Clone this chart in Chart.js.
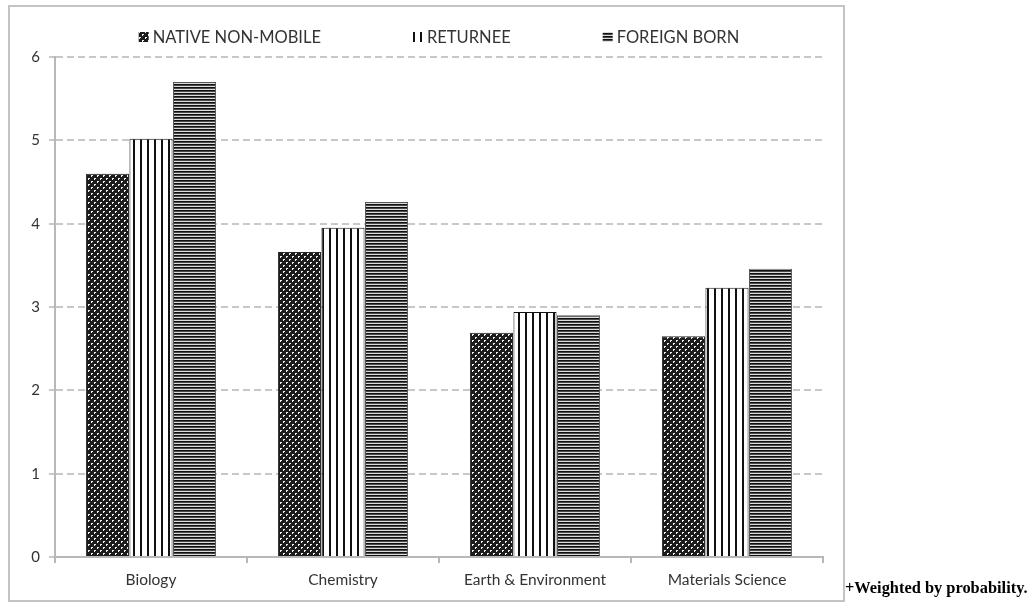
<!DOCTYPE html>
<html>
<head>
<meta charset="utf-8">
<script src="https://cdn.jsdelivr.net/npm/chart.js@4/dist/chart.umd.min.js"></script>
<style>
  html, body { margin: 0; padding: 0; background: #fff; }
  #wrap { position: relative; width: 1029px; height: 602px; }
  #frame { position: absolute; left: 8px; top: 5px; width: 833px; height: 593px; border: 2px solid #c4c4c4; pointer-events: none; }
  #note { position: absolute; left: 845px; top: 578px; font: bold 16.4px "Liberation Serif", serif; color: #000; white-space: nowrap; }
</style>
</head>
<body>
<div id="wrap">
  <canvas id="chart" width="1029" height="602"></canvas>
  <div id="frame"></div>
  <div id="note">+Weighted by probability.</div>
</div>
<script>
// Dati del grafico
const categories = ['Biology', 'Chemistry', 'Earth & Environment', 'Materials Science'];
const seriesNames = ['NATIVE NON-MOBILE', 'RETURNEE', 'FOREIGN BORN'];
const nativeValues = [4.6, 3.66, 2.69, 2.65];
const returneeValues = [5.02, 3.95, 2.94, 3.23];
const foreignValues = [5.7, 4.26, 2.9, 3.46];
const yTicks = [0, 1, 2, 3, 4, 5, 6];

const FONT = 'Lato, "Open Sans", sans-serif';

// Riempimenti a motivo per le barre
function makePattern(w, h, draw) {
    const c = document.createElement('canvas');
    c.width = w;
    c.height = h;
    const g = c.getContext('2d');
    draw(g);
    return c;
}

const ctx = document.getElementById('chart').getContext('2d');

const nativeTile = makePattern(6, 6, g => {
    g.fillStyle = '#1c1c1c';
    g.fillRect(0, 0, 6, 6);
    g.fillStyle = '#f0f0f0';
    // piccoli rombi chiari sfalsati
    g.fillRect(1, 1, 2, 1);
    g.fillRect(1, 2, 1, 1);
    g.fillRect(4, 4, 2, 1);
    g.fillRect(4, 5, 1, 1);
});
const returneeTile = makePattern(7, 1, g => {
    g.fillStyle = '#ffffff';
    g.fillRect(0, 0, 7, 1);
    g.fillStyle = '#111111';
    g.fillRect(0, 0, 2, 1);
});
const foreignTile = makePattern(1, 3, g => {
    g.fillStyle = '#111111';
    g.fillRect(0, 0, 1, 1);
    g.fillStyle = '#4a4a4a';
    g.fillRect(0, 1, 1, 1);
    g.fillStyle = '#dcdcdc';
    g.fillRect(0, 2, 1, 1);
});

const fills = [
    ctx.createPattern(nativeTile, 'repeat'),
    ctx.createPattern(returneeTile, 'repeat'),
    ctx.createPattern(foreignTile, 'repeat')
];

// Legenda disegnata a mano sopra l'area del grafico
const topLegend = {
    id: 'topLegend',
    afterDraw(chart) {
        const c = chart.ctx;
        const area = chart.chartArea;
        const y = 37;
        const box = 10;
        const gap = 92;
        c.save();
        c.font = '16.5px ' + FONT;
        c.textBaseline = 'middle';
        const widths = chart.data.datasets.map(ds => box + 4 + c.measureText(ds.label).width);
        const total = widths.reduce((s, w) => s + w, 0) + gap * (widths.length - 1);
        let x = (area.left + area.right) / 2 - total / 2;
        chart.data.datasets.forEach((ds, i) => {
            c.fillStyle = ds.backgroundColor;
            c.fillRect(x, y - box / 2, box, box);
            c.fillStyle = '#333333';
            c.fillText(ds.label, x + box + 4, y + 1);
            x += widths[i] + gap;
        });
        c.restore();
    }
};

new Chart(ctx, {
    type: 'bar',
    data: {
        labels: categories,
        datasets: [
            { label: seriesNames[0], data: nativeValues, backgroundColor: fills[0], borderColor: '#2a2a2a', borderWidth: 1 },
            { label: seriesNames[1], data: returneeValues, backgroundColor: fills[1], borderColor: '#111111', borderWidth: 1 },
            { label: seriesNames[2], data: foreignValues, backgroundColor: fills[2], borderColor: '#555555', borderWidth: 1 }
        ]
    },
    options: {
        responsive: false,
        animation: false,
        layout: { padding: { left: 8, right: 206, top: 57, bottom: 0 } },
        datasets: {
            bar: { categoryPercentage: 0.68, barPercentage: 0.99 }
        },
        plugins: {
            legend: { display: false },
            tooltip: { enabled: false }
        },
        scales: {
            x: {
                afterFit(scale) { scale.height = 45; },
                grid: {
                    offset: true,
                    drawOnChartArea: false,
                    drawTicks: true,
                    tickLength: 6,
                    color: '#b8b8b8',
                    lineWidth: 2
                },
                border: { color: '#b8b8b8', width: 2 },
                ticks: { color: '#333333', font: { family: FONT, size: 15.5 }, padding: 8 }
            },
            y: {
                min: 0,
                max: 6,
                afterFit(scale) { scale.width = 47; },
                afterBuildTicks(scale) { scale.ticks = yTicks.map(v => ({ value: v })); },
                grid: {
                    color: '#c8c8c8',
                    lineWidth: 2,
                    tickLength: 6,
                    tickBorderDash: []
                },
                border: { color: '#b8b8b8', width: 2, dash: [7, 4] },
                ticks: { color: '#333333', font: { family: FONT, size: 15 }, padding: 9 }
            }
        }
    },
    plugins: [topLegend]
});
</script>
</body>
</html>
